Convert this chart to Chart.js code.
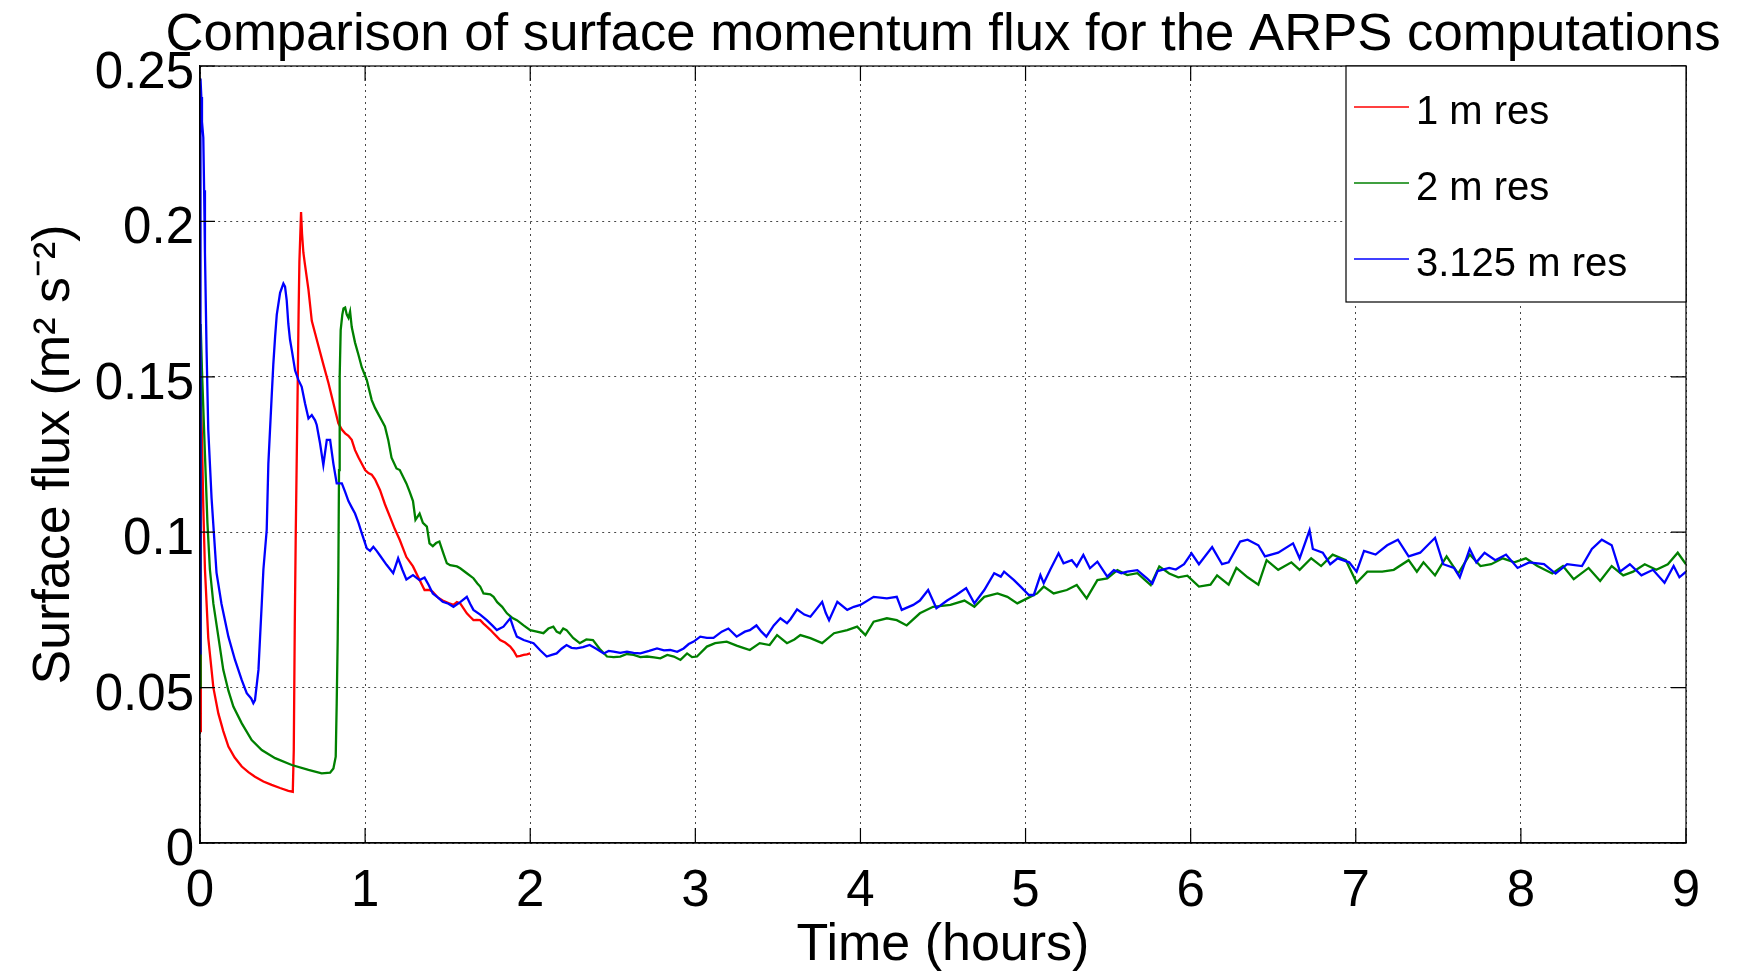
<!DOCTYPE html>
<html>
<head>
<meta charset="utf-8">
<title>Surface momentum flux</title>
<script src="https://cdn.jsdelivr.net/npm/chart.js@4.4.1/dist/chart.umd.min.js"></script>
<style>
  html, body { margin: 0; padding: 0; background: #fff; }
</style>
</head>
<body>
<canvas id="flux" width="1738" height="974"></canvas>
<script>
// [time (hours), surface flux (m^2 s^-2)]
const res1m = [
  [0, 0.036], [0.005, 0.145], [0.012, 0.13], [0.02, 0.108], [0.03, 0.088], [0.05, 0.066],
  [0.081, 0.050], [0.111, 0.0417], [0.141, 0.036], [0.172, 0.031], [0.21, 0.0275], [0.253, 0.0246],
  [0.293, 0.0228], [0.333, 0.0213], [0.384, 0.0198], [0.434, 0.0187], [0.485, 0.0177], [0.535, 0.0168],
  [0.562, 0.0165], [0.568, 0.030], [0.574, 0.070], [0.58, 0.10], [0.59, 0.14], [0.597, 0.17],
  [0.602, 0.187], [0.607, 0.195], [0.612, 0.203], [0.618, 0.196], [0.626, 0.190], [0.636, 0.186],
  [0.657, 0.178], [0.677, 0.168], [0.697, 0.164], [0.717, 0.160], [0.747, 0.154], [0.778, 0.148],
  [0.808, 0.1415], [0.838, 0.135], [0.859, 0.133], [0.879, 0.1318], [0.899, 0.131], [0.919, 0.1297],
  [0.939, 0.1264], [0.96, 0.124], [0.98, 0.122], [1.0, 0.120], [1.02, 0.119], [1.04, 0.1185],
  [1.06, 0.117], [1.09, 0.1136], [1.12, 0.109], [1.15, 0.105], [1.18, 0.101], [1.21, 0.0975],
  [1.25, 0.092], [1.29, 0.089], [1.33, 0.0846], [1.36, 0.0814], [1.39, 0.0814], [1.41, 0.0808],
  [1.44, 0.079], [1.47, 0.078], [1.505, 0.0772], [1.535, 0.0766], [1.556, 0.0775], [1.576, 0.0771],
  [1.596, 0.0755], [1.616, 0.0739], [1.636, 0.0728], [1.656, 0.0717], [1.677, 0.0718], [1.697, 0.0717],
  [1.717, 0.0706], [1.737, 0.0696], [1.758, 0.0686], [1.778, 0.0675], [1.798, 0.0664], [1.818, 0.0653],
  [1.848, 0.0645], [1.879, 0.0632], [1.9, 0.0618], [1.919, 0.060], [1.94, 0.0602], [1.96, 0.0605],
  [1.98, 0.0607], [2.0, 0.061]
];

const res2m = [
  [0, 0.050], [0.004, 0.167], [0.012, 0.152], [0.02, 0.14], [0.03, 0.125], [0.045, 0.103],
  [0.06, 0.088], [0.081, 0.077], [0.111, 0.0664], [0.141, 0.0557], [0.172, 0.049], [0.202, 0.0439],
  [0.253, 0.0385], [0.313, 0.0331], [0.374, 0.0299], [0.455, 0.0273], [0.556, 0.0251], [0.657, 0.0235],
  [0.737, 0.0224], [0.788, 0.0226], [0.808, 0.024], [0.822, 0.0278], [0.828, 0.045], [0.834, 0.066],
  [0.838, 0.088], [0.842, 0.12], [0.846, 0.15], [0.852, 0.165], [0.862, 0.170], [0.869, 0.172],
  [0.879, 0.1723], [0.889, 0.170], [0.899, 0.169], [0.909, 0.171], [0.919, 0.166], [0.939, 0.161],
  [0.96, 0.157], [0.98, 0.153], [1.01, 0.149], [1.04, 0.1425], [1.06, 0.140], [1.08, 0.138],
  [1.10, 0.136], [1.12, 0.134], [1.14, 0.1297], [1.16, 0.124], [1.19, 0.1205], [1.21, 0.120],
  [1.25, 0.1157], [1.27, 0.113], [1.29, 0.110], [1.305, 0.104], [1.33, 0.106], [1.35, 0.103],
  [1.374, 0.1018], [1.39, 0.0964], [1.41, 0.0955], [1.43, 0.0965], [1.45, 0.097], [1.475, 0.093],
  [1.495, 0.090], [1.515, 0.0894], [1.556, 0.089], [1.576, 0.0884], [1.616, 0.0868], [1.656, 0.0852],
  [1.68, 0.0835], [1.697, 0.0825], [1.717, 0.0803], [1.758, 0.080], [1.778, 0.0792], [1.8, 0.0775],
  [1.83, 0.076], [1.859, 0.0739], [1.89, 0.0725], [1.919, 0.0717], [1.96, 0.070], [2.0, 0.0685],
  [2.04, 0.068], [2.08, 0.0675], [2.11, 0.069], [2.14, 0.0696], [2.16, 0.068], [2.18, 0.0675],
  [2.2, 0.069], [2.22, 0.0685], [2.26, 0.066], [2.3, 0.0643], [2.34, 0.0655], [2.38, 0.0653],
  [2.42, 0.0625], [2.465, 0.060], [2.505, 0.0598], [2.545, 0.060], [2.586, 0.0608], [2.626, 0.0605],
  [2.667, 0.0598], [2.707, 0.060], [2.75, 0.0597], [2.788, 0.0594], [2.83, 0.0605], [2.87, 0.060],
  [2.91, 0.0589], [2.95, 0.061], [2.98, 0.0598], [3.01, 0.060], [3.07, 0.0632], [3.12, 0.0643],
  [3.19, 0.0648], [3.25, 0.0635], [3.29, 0.0628], [3.33, 0.0621], [3.39, 0.0643], [3.45, 0.0637],
  [3.495, 0.0669], [3.555, 0.0643], [3.6, 0.0655], [3.636, 0.0669], [3.697, 0.0659], [3.768, 0.0643],
  [3.84, 0.0675], [3.92, 0.0685], [3.98, 0.0696], [4.03, 0.0669], [4.08, 0.0712], [4.16, 0.0723],
  [4.22, 0.0717], [4.28, 0.070], [4.36, 0.0739], [4.44, 0.076], [4.545, 0.0766], [4.63, 0.078],
  [4.69, 0.076], [4.75, 0.0792], [4.83, 0.0803], [4.89, 0.0792], [4.95, 0.0771], [5.01, 0.0787],
  [5.07, 0.0803], [5.11, 0.0825], [5.17, 0.0803], [5.25, 0.0814], [5.31, 0.083], [5.37, 0.0787],
  [5.435, 0.0846], [5.495, 0.0851], [5.556, 0.0878], [5.616, 0.0862], [5.677, 0.0868], [5.758, 0.083],
  [5.81, 0.089], [5.87, 0.0867], [5.925, 0.0855], [5.98, 0.086], [6.05, 0.0825], [6.12, 0.0831],
  [6.16, 0.0861], [6.23, 0.0831], [6.277, 0.0885], [6.345, 0.0855], [6.41, 0.0831], [6.46, 0.091],
  [6.53, 0.0879], [6.61, 0.0903], [6.66, 0.0879], [6.73, 0.0916], [6.79, 0.0891], [6.86, 0.0928],
  [6.94, 0.091], [7.005, 0.0837], [7.07, 0.0873], [7.16, 0.0873], [7.23, 0.0879], [7.32, 0.091],
  [7.37, 0.0873], [7.41, 0.0903], [7.48, 0.0861], [7.55, 0.0922], [7.62, 0.0867], [7.69, 0.0928],
  [7.755, 0.0891], [7.82, 0.0897], [7.89, 0.0916], [7.96, 0.0903], [8.03, 0.0916], [8.10, 0.0891],
  [8.19, 0.0867], [8.255, 0.0891], [8.32, 0.0849], [8.41, 0.0885], [8.48, 0.0843], [8.55, 0.0891],
  [8.62, 0.0861], [8.68, 0.0873], [8.75, 0.0897], [8.82, 0.0879], [8.89, 0.0897], [8.95, 0.0934],
  [9.0, 0.0897]
];

const res3m = [
  [0, 0.061], [0.003, 0.246], [0.008, 0.24], [0.012, 0.232], [0.02, 0.227], [0.025, 0.21],
  [0.03, 0.19], [0.04, 0.158], [0.05, 0.133], [0.07, 0.111], [0.10, 0.087], [0.13, 0.077],
  [0.172, 0.0664], [0.212, 0.0589], [0.253, 0.0524], [0.283, 0.0482], [0.31, 0.0465], [0.323, 0.045],
  [0.333, 0.046], [0.354, 0.0557], [0.364, 0.0664], [0.374, 0.077], [0.384, 0.088], [0.404, 0.1007],
  [0.414, 0.122], [0.434, 0.1436], [0.444, 0.154], [0.455, 0.163], [0.465, 0.170], [0.485, 0.177],
  [0.505, 0.180], [0.515, 0.179], [0.525, 0.1747], [0.535, 0.167], [0.545, 0.162], [0.556, 0.1586],
  [0.576, 0.152], [0.596, 0.149], [0.616, 0.1468], [0.636, 0.1415], [0.657, 0.1366], [0.677, 0.1377],
  [0.697, 0.136], [0.707, 0.1345], [0.727, 0.1286], [0.747, 0.1216], [0.768, 0.1297], [0.788, 0.1297],
  [0.808, 0.122], [0.828, 0.1157], [0.859, 0.1157], [0.879, 0.113], [0.899, 0.110], [0.919, 0.108],
  [0.939, 0.106], [0.96, 0.103], [0.98, 0.0996], [1.01, 0.0948], [1.03, 0.094], [1.05, 0.0953],
  [1.07, 0.094], [1.09, 0.0925], [1.13, 0.0895], [1.17, 0.0868], [1.20, 0.0916], [1.225, 0.088],
  [1.25, 0.0848], [1.29, 0.0862], [1.33, 0.0846], [1.36, 0.0854], [1.385, 0.083], [1.41, 0.0803],
  [1.44, 0.079], [1.47, 0.0776], [1.505, 0.077], [1.535, 0.076], [1.576, 0.0775], [1.616, 0.0792],
  [1.636, 0.077], [1.656, 0.075], [1.697, 0.0735], [1.737, 0.0717], [1.77, 0.070], [1.798, 0.0685],
  [1.838, 0.0696], [1.879, 0.0723], [1.9, 0.069], [1.919, 0.0664], [1.96, 0.0653], [2.02, 0.0643],
  [2.06, 0.062], [2.10, 0.060], [2.13, 0.0605], [2.16, 0.061], [2.19, 0.0625], [2.22, 0.0637],
  [2.25, 0.0628], [2.28, 0.0626], [2.32, 0.063], [2.36, 0.0637], [2.4, 0.0625], [2.445, 0.061],
  [2.475, 0.0618], [2.505, 0.0616], [2.545, 0.0612], [2.586, 0.0616], [2.626, 0.0612], [2.667, 0.061],
  [2.72, 0.0618], [2.768, 0.0626], [2.81, 0.062], [2.848, 0.0621], [2.89, 0.0615], [2.929, 0.0626],
  [2.96, 0.064], [2.99, 0.0648], [3.03, 0.0664], [3.07, 0.066], [3.11, 0.066], [3.16, 0.068],
  [3.20, 0.069], [3.25, 0.0664], [3.30, 0.068], [3.33, 0.0685], [3.37, 0.070], [3.40, 0.068],
  [3.43, 0.0664], [3.475, 0.070], [3.515, 0.0723], [3.555, 0.0707], [3.576, 0.072], [3.616, 0.0752],
  [3.66, 0.0735], [3.697, 0.0728], [3.73, 0.075], [3.768, 0.0776], [3.79, 0.074], [3.81, 0.0717],
  [3.86, 0.0776], [3.92, 0.075], [3.96, 0.076], [4.0, 0.0766], [4.08, 0.0792], [4.16, 0.0787],
  [4.22, 0.0792], [4.25, 0.075], [4.32, 0.0766], [4.36, 0.078], [4.41, 0.0814], [4.46, 0.0755],
  [4.525, 0.078], [4.58, 0.0798], [4.64, 0.082], [4.69, 0.0771], [4.75, 0.0814], [4.81, 0.0868],
  [4.85, 0.0857], [4.87, 0.0873], [4.93, 0.0846], [4.97, 0.0825], [5.02, 0.0798], [5.05, 0.0798],
  [5.09, 0.0862], [5.11, 0.0836], [5.15, 0.088], [5.20, 0.0932], [5.23, 0.090], [5.28, 0.091],
  [5.31, 0.089], [5.35, 0.0927], [5.39, 0.0884], [5.435, 0.0905], [5.495, 0.0857], [5.535, 0.0878],
  [5.58, 0.0868], [5.616, 0.0873], [5.677, 0.0878], [5.737, 0.0851], [5.768, 0.0835], [5.8, 0.0875],
  [5.87, 0.0885], [5.91, 0.088], [5.96, 0.0897], [6.005, 0.0932], [6.05, 0.0897], [6.13, 0.0952],
  [6.19, 0.0897], [6.23, 0.0903], [6.30, 0.097], [6.345, 0.0976], [6.41, 0.0958], [6.45, 0.0922],
  [6.53, 0.0934], [6.62, 0.0964], [6.66, 0.0916], [6.72, 0.1006], [6.74, 0.0946], [6.80, 0.0934],
  [6.845, 0.0897], [6.89, 0.0916], [6.96, 0.0903], [7.005, 0.0873], [7.05, 0.094], [7.12, 0.0928],
  [7.19, 0.0958], [7.255, 0.0976], [7.32, 0.0922], [7.39, 0.0934], [7.48, 0.0982], [7.53, 0.0897],
  [7.595, 0.0885], [7.63, 0.0855], [7.69, 0.0946], [7.73, 0.0903], [7.78, 0.0934], [7.845, 0.091],
  [7.91, 0.0928], [7.98, 0.0885], [8.05, 0.0903], [8.14, 0.0897], [8.21, 0.0867], [8.28, 0.0897],
  [8.37, 0.0891], [8.43, 0.0946], [8.49, 0.0976], [8.55, 0.0958], [8.60, 0.0873], [8.66, 0.0897],
  [8.73, 0.0861], [8.8, 0.0879], [8.87, 0.0837], [8.925, 0.0891], [8.96, 0.0855], [9.0, 0.0873]
];

const chartTitle = "Comparison of surface momentum flux for the ARPS computations";
const seriesLabels = ["1 m res", "2 m res", "3.125 m res"];
const seriesColors = ["rgb(255,0,0)", "rgb(0,128,0)", "rgb(0,0,255)"];
const xTicks = [0, 1, 2, 3, 4, 5, 6, 7, 8, 9];
const yTicks = [0, 0.05, 0.1, 0.15, 0.2, 0.25];
const yTickLabels = ["0", "0.05", "0.1", "0.15", "0.2", "0.25"];

const FONT = '"Liberation Sans", Arial, Helvetica, sans-serif';
Chart.defaults.font.family = FONT;
Chart.defaults.color = "#000";

const toPoints = (rows) => rows.map(([t, f]) => ({ x: t, y: f }));

// matlab style: closed box, inward ticks, title over the axes, legend inside top right
const axesBox = {
  id: "axesBox",
  afterDraw(chart) {
    const { ctx, chartArea: a, scales } = chart;
    const tick = 15;
    ctx.save();
    ctx.strokeStyle = "#000";
    ctx.lineWidth = 1.2;
    ctx.strokeRect(a.left, a.top, a.right - a.left, a.bottom - a.top);
    ctx.beginPath();
    xTicks.forEach((v) => {
      const px = scales.x.getPixelForValue(v);
      ctx.moveTo(px, a.bottom); ctx.lineTo(px, a.bottom - tick);
      ctx.moveTo(px, a.top); ctx.lineTo(px, a.top + tick);
    });
    yTicks.forEach((v) => {
      const py = scales.y.getPixelForValue(v);
      ctx.moveTo(a.left, py); ctx.lineTo(a.left + tick, py);
      ctx.moveTo(a.right, py); ctx.lineTo(a.right - tick, py);
    });
    ctx.stroke();

    // title, centred on the axes and allowed to run past them
    ctx.fillStyle = "#000";
    ctx.font = "52.7px " + FONT;
    ctx.textAlign = "center";
    ctx.textBaseline = "alphabetic";
    ctx.fillText(chartTitle, (a.left + a.right) / 2, 50);

    const boxW = 340, boxH = 236, rowH = 76;
    const bx = a.right - boxW, by = a.top;
    ctx.fillStyle = "#fff";
    ctx.fillRect(bx, by, boxW, boxH);
    ctx.strokeRect(bx, by, boxW, boxH);
    ctx.font = "40px " + FONT;
    ctx.textAlign = "left";
    ctx.textBaseline = "middle";
    chart.data.datasets.forEach((ds, i) => {
      const y = by + 41 + i * rowH;
      ctx.strokeStyle = ds.borderColor;
      ctx.lineWidth = 1.5;
      ctx.beginPath();
      ctx.moveTo(bx + 8, y);
      ctx.lineTo(bx + 63, y);
      ctx.stroke();
      ctx.fillStyle = "#000";
      ctx.fillText(ds.label, bx + 70, y + 6);
    });
    ctx.restore();
  }
};

const gridStyle = { color: "rgba(40,40,40,0.85)", lineWidth: 1, drawTicks: false };
const borderStyle = { display: true, color: "#000", width: 1.2, dash: [2, 4] };

new Chart(document.getElementById("flux"), {
  type: "line",
  data: {
    datasets: [res1m, res2m, res3m].map((rows, i) => ({
      label: seriesLabels[i],
      data: toPoints(rows),
      borderColor: seriesColors[i],
      backgroundColor: seriesColors[i],
      borderWidth: 2.3,
      pointRadius: 0,
      tension: 0,
      fill: false,
      order: 2 - i
    }))
  },
  options: {
    responsive: false,
    animation: false,
    devicePixelRatio: 1,
    layout: { padding: { top: 66, left: 0, right: 52, bottom: 0 } },
    plugins: {
      legend: { display: false },
      tooltip: { enabled: false },
      title: { display: false }
    },
    scales: {
      x: {
        type: "linear",
        min: 0,
        max: 9,
        afterBuildTicks: (s) => { s.ticks = xTicks.map((v) => ({ value: v })); },
        afterFit: (s) => { s.height = 131; },
        ticks: { font: { size: 51 }, padding: 18, maxRotation: 0, autoSkip: false },
        grid: gridStyle,
        border: borderStyle,
        title: {
          display: true,
          text: "Time (hours)",
          font: { size: 52, lineHeight: 1 },
          padding: { top: 0, bottom: 2 }
        }
      },
      y: {
        min: 0,
        max: 0.25,
        afterBuildTicks: (s) => { s.ticks = yTicks.map((v) => ({ value: v })); },
        afterFit: (s) => { s.width = 200; },
        ticks: {
          font: { size: 51 },
          padding: 6,
          labelOffset: 8,
          callback: (v) => yTickLabels[yTicks.findIndex((t) => Math.abs(t - v) < 1e-9)]
        },
        grid: gridStyle,
        border: borderStyle,
        title: {
          display: true,
          text: "Surface flux (m² s⁻²)",
          font: { size: 52, lineHeight: 1 },
          padding: { top: 29, bottom: 0 }
        }
      }
    }
  },
  plugins: [axesBox]
});
</script>
</body>
</html>
